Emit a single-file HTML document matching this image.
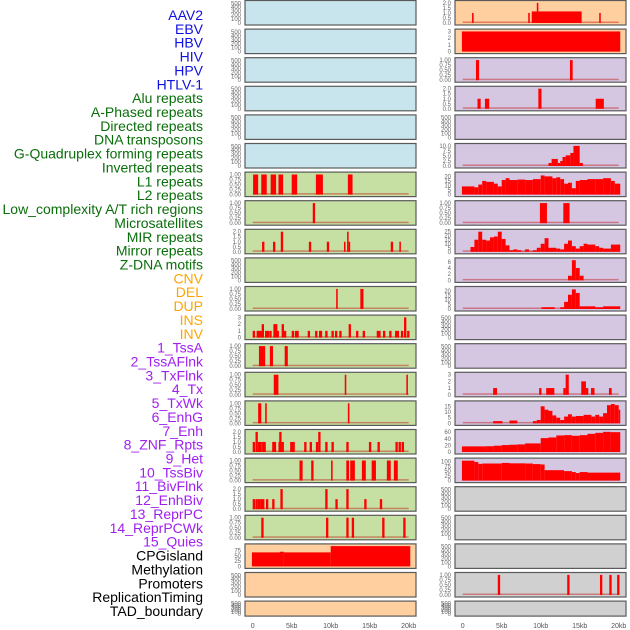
<!DOCTYPE html>
<html><head><meta charset="utf-8"><style>
html,body{margin:0;padding:0;background:#fff}
svg{display:block}
</style></head><body>
<svg id="chart" width="630" height="630" viewBox="0 0 630 630" xmlns="http://www.w3.org/2000/svg">
<g id="labels"></g>
<g id="panels"></g>
<g id="xaxis"></g>
</svg>
<script>
const trackLabels = ["AAV2","EBV","HBV","HIV","HPV","HTLV-1","Alu repeats","A-Phased repeats","Directed repeats","DNA transposons","G-Quadruplex forming repeats","Inverted repeats","L1 repeats","L2 repeats","Low_complexity A/T rich regions","Microsatellites","MIR repeats","Mirror repeats","Z-DNA motifs","CNV","DEL","DUP","INS","INV","1_TssA","2_TssAFlnk","3_TxFlnk","4_Tx","5_TxWk","6_EnhG","7_Enh","8_ZNF_Rpts","9_Het","10_TssBiv","11_BivFlnk","12_EnhBiv","13_ReprPC","14_ReprPCWk","15_Quies","CPGisland","Methylation","Promoters","ReplicationTiming","TAD_boundary"];
const labelGroups = [6,13,5,15,5];
const groupColors = ["#1010e0","#0a6e0a","#ffa500","#a020f0","#000000"];
const xTickValues = [0,5,10,15,20];
const xTickLabels = ["0","5kb","10kb","15kb","20kb"];
const emptyTicks = [0,100,200,300,400,500];
const t1 = [0,0.25,0.5,0.75,1];
const t2 = [0,0.5,1,1.5,2];
const t3 = [0,1,2,3];
// left column tracks: [ymax, ticks, segments [startKb,endKb,value]]
const leftBg = ["#c8e4ec","#c8e4ec","#c8e4ec","#c8e4ec","#c8e4ec","#c8e4ec","#c6e0a4","#c6e0a4","#c6e0a4","#c6e0a4","#c6e0a4","#c6e0a4","#c6e0a4","#c6e0a4","#c6e0a4","#c6e0a4","#c6e0a4","#c6e0a4","#c6e0a4","#ffcf9f","#ffcf9f","#ffcf9f"];
const rightBg = ["#ffcf9f","#ffcf9f","#d5c6e2","#d5c6e2","#d5c6e2","#d5c6e2","#d5c6e2","#d5c6e2","#d5c6e2","#d5c6e2","#d5c6e2","#d5c6e2","#d5c6e2","#d5c6e2","#d5c6e2","#d5c6e2","#d5c6e2","#d0d0d0","#d0d0d0","#d0d0d0","#d0d0d0","#d0d0d0"];
const L6 = [[0.05,0.7,1],[1.1,1.8,1],[2.3,3.0,1],[3.3,3.9,1],[5.0,5.7,1],[8.1,9.0,1],[12.2,12.8,1]];
const L7 = [[7.7,8.0,1]];
const L8 = [[1.2,1.5,1],[2.6,2.9,1],[3.6,3.9,2],[7.2,7.5,1],[9.5,9.8,1],[11.7,11.9,1],[12.1,12.3,2],[12.3,12.5,1],[17.7,18.0,1],[18.8,19.0,1]];
const L10 = [[10.7,10.9,1],[13.8,14.2,1]];
const L11pos = [0.0,0.5,0.7,0.94,1.15,1.58,1.8,2.13,2.65,2.86,3.07,3.71,4.0,5.0,5.4,5.6,7.05,8.0,8.5,8.6,9.3,10.1,10.55,11.1,12.3,13.25,14.1,15.9,16.1,16.7,17.5,18.25,18.46,19.0,19.4,19.8];
const L11val = [1,1,1,1,2,1,1,1,2,2,1,2,1,1,1,1,1,1,1,1,1,1,1,1,2,1,1,1,1,1,1,1,1,1,3,1];
const L12 = [[0.8,1.6,1],[2.2,2.6,1],[4.1,4.5,1]];
const L13 = [[2.7,3.3,1],[11.8,12.0,1],[19.7,19.9,1]];
const L14 = [[0.7,1.1,1],[1.6,1.8,1],[12.2,12.4,1]];
const L15pos = [0,0.36,0.66,0.87,1.2,1.38,2.5,2.7,3.3,3.4,3.7,4.8,5.1,6.6,7.3,8.1,8.4,9.3,10.1,12.0,14.9,16.0,18.3,18.7,19.1];
const L15val = [1,2,1,1,1,1,1,1,1,2,1,1,1,1,1,1,2,1,1,1,1,1,1,1,1];
const L16 = [[6.0,6.4,1],[7.5,7.8,1],[10.05,10.25,1],[12.0,12.35,1],[12.5,13.1,1],[14.0,14.5,1],[15.25,15.8,1],[17.2,17.7,1],[18.1,18.6,1]];
const L17pos = [0,0.35,0.65,0.95,1.2,1.7,2.5,3.55,9.3,10.6,12.0,14.3,16.3];
const L17val = [1,1,1,1,1,1,1,2,2,1,2,1,1];
const L18pos = [1.1,9.4,12.0,12.7,16.6,19.3];
const L19 = [[-0.1,3.5,67],[3.5,4.0,70],[4.0,10.0,67],[10.0,20.2,97]];
const R0 = [[1.2,1.4,1],[8.4,8.6,1],[8.85,15.25,1.15],[9.5,9.7,2],[17.5,17.7,1]];
const R1 = [[-0.1,20.2,3]];
const R2 = [[1.7,2.1,1],[13.75,14.1,1]];
const R3 = [[1.9,2.3,1],[2.85,3.4,1],[9.7,10.1,2],[17.05,18.1,1]];
const R5 = [[11.0,11.4,1.5],[11.4,12.2,3.5],[12.2,12.5,1.5],[12.5,12.8,2.5],[12.8,13.2,4.5],[13.2,13.8,5.3],[13.8,14.2,6.5],[14.2,15.0,10],[15.0,15.4,1.5]];
const R6 = [[-0.1,1.5,9],[1.5,2,8],[2,2.5,11],[2.5,3,15],[3,4,14],[4,4.5,12],[4.5,5,9],[5,5.5,16],[5.5,6,18],[6,7,16],[7,8,16.5],[8,9,16],[9,10,17],[10,10.5,21],[10.5,11.5,20],[11.5,12,18],[12,12.5,19],[12.5,13,17],[13,13.5,12],[13.5,14,13],[14,14.5,7],[14.5,15,15],[15,16,16],[16,17,17],[17,18,17],[18,19,18],[19,19.5,15],[19.5,20.2,12]];
const R7 = [[9.9,10.8,1],[12.9,13.7,1]];
const R8 = [[1,1.5,6],[1.5,2,15],[2,2.5,25],[2.5,3,15],[3,3.5,14],[3.5,4,18],[4,4.5,19],[4.5,5,25],[5,5.5,16],[5.5,6,8],[6,6.5,2],[6.5,7,3],[7,7.5,2],[7.5,8,0.5],[8,8.5,3],[8.5,9,0.5],[9,9.5,2],[9.5,10,5],[10,10.5,10],[10.5,11,17],[11,12,5],[12,12.5,4],[12.5,13,3],[13,13.5,10],[13.5,14,14],[14,14.5,7],[14.5,15,4],[15,15.5,7],[15.5,16,10],[16,17,9],[17,17.5,7],[17.5,18,5],[18,19,4],[19,20.2,9]];
const R9 = [[13.5,14,1.5],[14,14.5,6.5],[14.5,15,4],[15,15.5,1.5]];
const R10 = [[10.1,11.8,2],[12.5,13,2],[13,13.5,8],[13.5,14,16],[14,14.5,22],[14.5,15,18],[15,17,3],[17,18,2],[18,20.2,3]];
const R13 = [[3.9,4.4,1],[9.8,10.1,1],[10.7,11.75,1],[12.9,13.2,1],[13.2,13.6,3],[15.2,15.8,2],[15.8,16.1,1],[16.45,16.9,1],[18.75,19.1,1]];
const R14 = [[3.9,5.1,2],[6,7,2.5],[9,9.5,2],[9.5,10,3],[10,10.5,15],[10.5,11,12],[11,11.5,11],[11.5,12,7],[12,12.5,5],[12.5,13,3],[13,13.5,6],[13.5,14,8],[14,14.5,6],[14.5,15.5,6.5],[15.5,16.5,7.5],[16.5,17,6],[17,17.5,7.5],[17.5,18,6],[18,18.5,9],[18.5,19,16],[19,19.5,17],[19.5,20,16],[20,20.2,12]];
const R15 = [[-0.1,3,17],[3,4,17.5],[4,5,19],[5,6,21],[6,7,22],[7,8,23],[8,10,26],[10,11,42],[11,12,44],[12,13,50],[13,14,51],[14,15,49],[15,16,51],[16,17,55],[17,18,58],[18,19,61],[19,20.2,60]];
const R16 = [[-0.1,1.5,105],[1.5,2,98],[2,2.5,88],[2.5,5,90],[5,6,93],[6,8,91],[8,9,90],[9,10,87],[10,10.5,85],[10.5,13,55],[13,14,50],[14,14.5,45],[14.5,15,40],[15,16,45],[16,20.2,42]];
const R20pos = [4.5,13.4,17.6,18.8,19.8];

const W = 0.3;
function spikes(pos, vals){ return pos.map((p,i)=>[p, p+W, vals ? vals[i] : 1]); }
const E = null;
const leftTracks = [
 [520,emptyTicks,E],[520,emptyTicks,E],[520,emptyTicks,E],[520,emptyTicks,E],[520,emptyTicks,E],[520,emptyTicks,E],
 [1.02,t1,L6],[1.02,t1,L7],[2.04,t2,L8],[520,emptyTicks,E],[1.02,t1,L10],[3.05,t3,spikes(L11pos,L11val)],
 [1.02,t1,L12],[1.02,t1,L13],[1.02,t1,L14],[2.04,t2,spikes(L15pos,L15val)],[1.02,t1,L16],[2.04,t2,spikes(L17pos,L17val)],
 [1.02,t1,spikes(L18pos)],[98,[0,25,50,75],L19],[520,emptyTicks,E],[520,emptyTicks,E]
];
const rightTracks = [
 [2.04,t2,R0],[3.05,t3,R1],[1.02,t1,R2],[2.04,t2,R3],[520,emptyTicks,E],[10.2,[0,2.5,5,7.5,10],R5],
 [22.5,[0,5,10,15,20],R6],[1.02,t1,R7],[25.5,[0,5,10,15,20,25],R8],[6.6,[0,2,4,6],R9],[23,[0,5,10,15,20],R10],
 [520,emptyTicks,E],[520,emptyTicks,E],[3.05,t3,R13],[18,[0,5,10,15],R14],[62,[0,20,40,60],R15],[108,[0,25,50,75,100],R16],
 [520,emptyTicks,E],[520,emptyTicks,E],[520,emptyTicks,E],[1.02,t1,spikes(R20pos)],[520,emptyTicks,E]
];

const NS = "http://www.w3.org/2000/svg";
function mk(tag, attrs, parent){ const e=document.createElementNS(NS,tag); for(const k in attrs) e.setAttribute(k,attrs[k]); parent.appendChild(e); return e; }

// labels
const lg = document.getElementById('labels');
let idx=0;
labelGroups.forEach((n,g)=>{ for(let i=0;i<n;i++){ const t=mk('text',{x:203,y:15+idx*13.86+5,'text-anchor':'end','font-family':'Liberation Sans, sans-serif','font-size':'14',fill:groupColors[g]},lg); t.textContent=trackLabels[idx];
 
 
 idx++; } });

const pg = document.getElementById('panels');
function xScale(col, kb){ return 252.7 + col*210 + kb*7.8; }
function drawPanel(col, row, track, bg){
  const px = 245 + col*210, pw = 171;
  const top = row*28.6, h = row===21 ? 15 : 24.5;
  const [ymax, ticks, segs] = track;
  const g = mk('g',{},pg);
  
  
  mk('rect',{x:px,y:top+0.5,width:pw,height:h,fill:bg,stroke:'#5a5a5a','stroke-width':1.2},g);
  const y0 = top+h-1.5, yr = h-4;
  const yS = v => y0 - v/ymax*yr;
  ticks.forEach(tv=>{ const t=mk('text',{x:px-4,y:yS(tv)+2,'text-anchor':'end','font-family':'Liberation Sans, sans-serif','font-size':'6',fill:'#666'},g); t.textContent = (ticks===t1? tv.toFixed(2): (ticks===t2? tv.toFixed(1): (ticks[1]===2.5? tv.toFixed(1): String(tv))));
   
    });
  if(segs){
    mk('rect',{x:xScale(col,0),y:y0-1.5,width:20*7.8,height:1.5,fill:'rgba(190,20,20,0.45)'},g);
    segs.forEach(s=>{ const r=mk('rect',{x:xScale(col,s[0]),y:yS(s[2]),width:Math.max(1,(s[1]-s[0])*7.8),height:y0-yS(s[2]),fill:'#ff0000'},g);
      
       });
  }
}
leftTracks.forEach((t,i)=>drawPanel(0,i,t,leftBg[i]));
rightTracks.forEach((t,i)=>drawPanel(1,i,t,rightBg[i]));

const xg = document.getElementById('xaxis');
[0,1].forEach(col=>{ xTickValues.forEach((v,i)=>{ const t=mk('text',{x:xScale(col,v),y:628,'text-anchor':'middle','font-family':'Liberation Sans, sans-serif','font-size':'7',fill:'#555'},xg); t.textContent=xTickLabels[i];
 
  }); });
</script>
</body></html>
